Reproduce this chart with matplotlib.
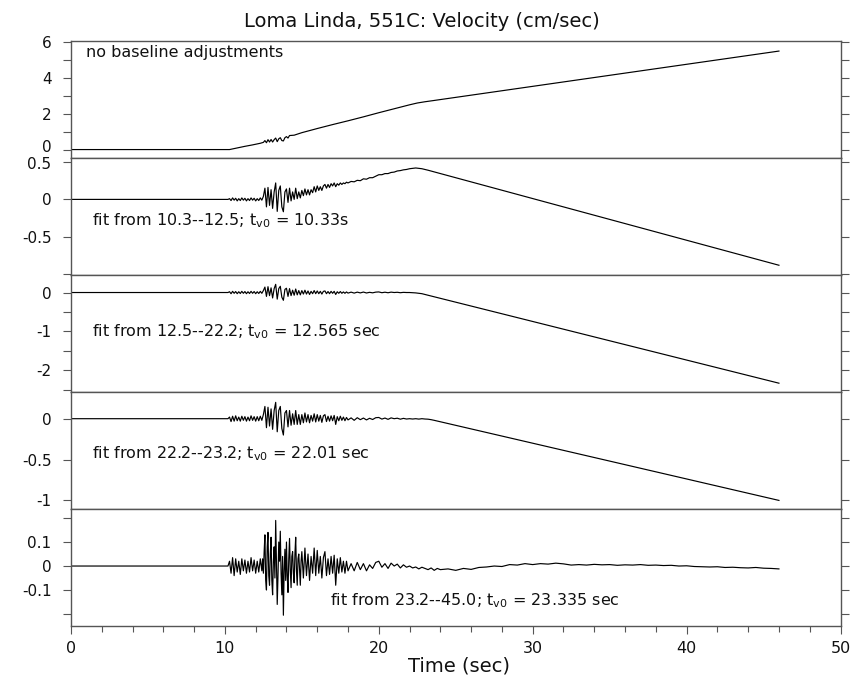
import numpy as np
import matplotlib
matplotlib.use("Agg")
import matplotlib.pyplot as plt
from matplotlib.transforms import ScaledTranslation

plt.rcParams['font.family'] = ['DejaVu Sans']
plt.rcParams['mathtext.default'] = 'regular'

# ---------------- data ----------------
T_DENSE0, T_DENSE_STEP = 10.2, 0.1     # 10.2 .. 18.0
T_MID0, T_MID_STEP = 18.2, 0.2         # 18.2 .. (varies)
T_END = 46.0

# Panel 1: raw velocity, no baseline adjustment (cm/sec)
p1_t = [0.0, 10.3, 10.8, 11.3, 11.8, 12.3, 12.5,
        12.6, 12.7, 12.8, 12.9, 13.0, 13.1, 13.2, 13.3, 13.4, 13.5,
        13.6, 13.7, 13.8, 13.9, 14.0, 14.1, 14.2,
        14.5, 15.0, 16.0, 17.0, 18.0, 19.0, 20.0, 21.0, 22.0, 22.5,
        23.0, 23.5, 46.0]
p1_v = [0.0, 0.0, 0.09, 0.18, 0.26, 0.35, 0.40,
        0.50, 0.38, 0.55, 0.42, 0.56, 0.42, 0.55, 0.64, 0.44, 0.60,
        0.66, 0.50, 0.48, 0.66, 0.72, 0.64, 0.78,
        0.80, 0.94, 1.17, 1.39, 1.60, 1.82, 2.05, 2.27, 2.49, 2.59,
        2.66, 2.72, 5.48]

# Panel 2: fit 10.3--12.5
p2_dense = [0.0, 0.01, -0.015, 0.02, -0.01, 0.015, -0.02, 0.01, -0.015, 0.02,
            -0.01, 0.015, -0.02, 0.01, -0.015, 0.02, -0.01, 0.015, -0.02, 0.01,
            -0.015, 0.02, -0.01, 0.04, 0.15, -0.1, 0.16, -0.08, 0.13, -0.12,
            0.1, 0.22, -0.16, 0.12, 0.18, -0.1, -0.165, 0.1, 0.14, -0.04,
            0.15, -0.02, 0.1, 0.0, 0.15, 0.01, 0.1, 0.02, 0.12, 0.05,
            0.14, 0.06, 0.13, 0.06, 0.13, 0.09, 0.17, 0.1, 0.18, 0.12,
            0.17, 0.12, 0.18, 0.2, 0.15, 0.2, 0.16, 0.21, 0.18, 0.22,
            0.17, 0.21, 0.19, 0.22, 0.2, 0.22, 0.21, 0.23, 0.22]
p2_mid = [0.24, 0.235, 0.255, 0.25, 0.275, 0.27, 0.29, 0.29, 0.31, 0.33,
          0.33, 0.345, 0.345, 0.36, 0.365, 0.38, 0.385, 0.395, 0.40, 0.41,
          0.415, 0.42, 0.415, 0.41, 0.40, 0.39]
p2_end = -0.88

# Panel 3: fit 12.5--22.2
p3_dense = [0.0, 0.02, -0.03, 0.03, -0.02, 0.025, -0.03, 0.02, -0.025, 0.03,
            -0.02, 0.025, -0.03, 0.02, -0.025, 0.03, -0.02, 0.025, -0.03, 0.02,
            -0.025, 0.03, -0.02, 0.05, 0.14, -0.1, 0.15, -0.08, 0.12, -0.14,
            0.1, 0.21, -0.17, 0.1, 0.16, -0.12, -0.2, 0.08, 0.11, -0.1,
            0.1, -0.08, 0.06, -0.07, 0.09, -0.06, 0.05, -0.06, 0.05, -0.04,
            0.06, -0.04, 0.04, -0.05, 0.03, -0.03, 0.05, -0.03, 0.04, -0.03,
            0.03, -0.04, 0.03, 0.04, -0.03, 0.025, -0.03, 0.03, -0.02, 0.03,
            -0.05, 0.02, -0.02, 0.025, -0.02, 0.015, -0.02, 0.015, -0.015]
p3_mid = [0.01, -0.015, 0.01, -0.01, 0.012, -0.012, 0.005, -0.008, 0.01, 0.015,
          -0.005, 0.008, -0.006, 0.01, 0.0, 0.006, -0.005, 0.004, 0.0, 0.0,
          -0.005, -0.01, -0.02, -0.03, -0.05, -0.07]
p3_end = -2.33

# Panel 4: fit 22.2--23.2
p4_dense = [0.0, 0.02, -0.035, 0.03, -0.03, 0.035, -0.025, 0.02, -0.03, 0.03,
            -0.02, 0.025, -0.03, 0.02, -0.025, 0.035, -0.02, 0.025, -0.03, 0.025,
            -0.025, 0.03, -0.02, 0.05, 0.15, -0.11, 0.14, -0.09, 0.12, -0.13,
            0.1, 0.2, -0.16, 0.1, 0.15, -0.12, -0.2, 0.07, 0.1, -0.1,
            0.1, -0.08, 0.06, -0.07, 0.1, -0.07, 0.05, -0.07, 0.05, -0.05,
            0.07, -0.04, 0.05, -0.05, 0.04, -0.03, 0.06, -0.04, 0.05, -0.03,
            0.04, -0.045, 0.035, 0.05, -0.035, 0.03, -0.03, 0.035, -0.025, 0.04,
            -0.07, 0.025, -0.025, 0.03, -0.02, 0.02, -0.025, 0.015, -0.015]
p4_mid = [0.01, -0.02, 0.012, -0.012, 0.008, -0.015, 0.005, -0.01, 0.012, 0.015,
          -0.005, 0.008, -0.008, 0.01, 0.0, 0.006, -0.006, 0.004, -0.004, 0.0,
          -0.004, 0.0, -0.005, 0.0, -0.004, -0.006, -0.012, -0.02]
p4_end = -1.0

# Panel 5: fit 23.2--45.0
p5_pre = [0.0, 0.02, -0.03, 0.035, -0.04, 0.03, -0.025, 0.02, -0.035, 0.03,
          -0.02, 0.025, -0.03, 0.02, -0.025, 0.035, -0.02, 0.025, -0.03, 0.02,
          -0.025, 0.03]                                   # 10.2 .. 12.3 (0.1 s)
p5_burst = [-0.02, 0.03, -0.03, 0.06, 0.13, -0.06, -0.10, 0.08, 0.14, -0.04,
            -0.08, 0.05, 0.12, -0.06, -0.12, 0.02, 0.08, -0.05, 0.19, 0.02,
            -0.16, -0.04, 0.10, 0.02, 0.145, -0.03, -0.12, 0.04, -0.205, -0.02,
            0.07, -0.06, 0.10, -0.04, -0.11, 0.03, 0.115, -0.02, -0.09, 0.04,
            0.06, -0.03, -0.07, 0.05, 0.12, -0.02, -0.08, 0.03, 0.05, -0.02,
            -0.08, 0.02, 0.06]                            # 12.4 .. 15.0 (0.05 s)
p5_post = [-0.05, 0.075, -0.04, 0.05, -0.06, 0.04, -0.03, 0.075, -0.04, 0.065,
           -0.03, 0.04, -0.05, 0.035, 0.06, -0.04, 0.03, -0.035, 0.04, -0.03,
           0.045, -0.08, 0.03, -0.03, 0.035, -0.025, 0.02, -0.03, 0.02, -0.02]  # 15.1 .. 18.0
p5_mid = [0.01, -0.02, 0.015, -0.015, 0.01, -0.02, 0.005, -0.01, 0.015, 0.02,
          -0.005, 0.01, -0.01, 0.012, 0.0, 0.008, -0.008, 0.005, -0.005, 0.0,
          -0.008, -0.004, -0.012, -0.005, -0.01, -0.015, -0.008, -0.018, -0.01, -0.015]
p5_tail_t0, p5_tail_step = 24.5, 0.5
p5_tail = [-0.012, -0.018, -0.01, -0.014, -0.006, -0.004, 0.0, -0.002, 0.006, 0.004,
           0.01, 0.006, 0.01, 0.008, 0.012, 0.009, 0.004, 0.006, 0.004, 0.007,
           0.005, 0.006, 0.003, 0.005, 0.004, 0.006, 0.003, 0.004, 0.002, 0.003,
           0.0, 0.001, -0.002, -0.003, -0.004, -0.003, -0.006, -0.005, -0.007, -0.008,
           -0.006, -0.009, -0.01, -0.012]

labels = ["no baseline adjustments",
          "fit from 10.3--12.5; $t_{v0}$ = 10.33s",
          "fit from 12.5--22.2; $t_{v0}$ = 12.565 sec",
          "fit from 22.2--23.2; $t_{v0}$ = 22.01 sec",
          "fit from 23.2--45.0; $t_{v0}$ = 23.335 sec"]
label_pos = [(0.0195, 0.860), (0.0273, 0.429), (0.0273, 0.480),
             (0.0273, 0.439), (0.3366, 0.183)]

ylims = [(-0.475, 6.04), (-1.013, 0.552), (-2.564, 0.445), (-1.11, 0.323), (-0.252, 0.236)]
yticks = [[0, 1, 2, 3, 4, 5, 6], [-1, -0.5, 0, 0.5], [-2.5, -2, -1.5, -1, -0.5, 0],
          [-1, -0.5, 0], [-0.2, -0.1, 0, 0.1, 0.2]]
yticklabels = [['0', '', '2', '', '4', '', '6'], ['', '-0.5', '0', '0.5'],
               ['', '-2', '', '-1', '', '0'], ['-1', '-0.5', '0'],
               ['', '-0.1', '0', '0.1', '']]
xmajor = [0, 10, 20, 30, 40, 50]
xminor = [2, 4, 6, 8, 12, 14, 16, 18, 22, 24, 26, 28, 32, 34, 36, 38, 42, 44, 46, 48]


def grid(t0, step, vals):
    return list(t0 + step * np.arange(len(vals)))


def build(dense, mid, end_val):
    t = [0.0] + grid(T_DENSE0, T_DENSE_STEP, dense) + grid(T_MID0, T_MID_STEP, mid) + [T_END]
    v = [0.0] + list(dense) + list(mid) + [end_val]
    return np.array(t), np.array(v)


p5_t = ([0.0] + grid(10.2, 0.1, p5_pre) + grid(12.4, 0.05, p5_burst) +
        grid(15.1, 0.1, p5_post) + grid(T_MID0, T_MID_STEP, p5_mid) +
        grid(p5_tail_t0, p5_tail_step, p5_tail))
p5_v = [0.0] + p5_pre + p5_burst + p5_post + p5_mid + p5_tail

series = [(np.array(p1_t), np.array(p1_v)),
          build(p2_dense, p2_mid, p2_end),
          build(p3_dense, p3_mid, p3_end),
          build(p4_dense, p4_mid, p4_end),
          (np.array(p5_t), np.array(p5_v))]

# ---------------- figure ----------------
fig = plt.figure(figsize=(8.55, 6.8), dpi=100)
gs = fig.add_gridspec(5, 1, left=71 / 855, right=840.5 / 855,
                      top=1 - 41 / 680, bottom=1 - 626.5 / 680, hspace=0)
spine_col = '#555555'
axes = []
for i in range(5):
    ax = fig.add_subplot(gs[i])
    axes.append(ax)
    t, v = series[i]
    ax.plot(t, v, color='black', lw=0.85)
    ax.set_xlim(0, 50)
    ax.set_ylim(*ylims[i])
    ax.set_yticks(yticks[i])
    ax.set_yticklabels(yticklabels[i])
    for s in ax.spines.values():
        s.set_color(spine_col)
        s.set_linewidth(1.0)
    ax.tick_params(axis='y', which='both', direction='out', length=6, width=0.8,
                   color=spine_col, labelsize=11, pad=8, left=True, right=True,
                   labelright=False, labelcolor='#111111')
    if i < 4:
        ax.tick_params(axis='x', which='both', bottom=False, top=False, labelbottom=False)
    else:
        ax.set_xticks(xmajor)
        ax.set_xticks(xminor, minor=True)
        ax.tick_params(axis='x', which='major', direction='out', length=6, width=0.8,
                       color=spine_col, labelsize=11.5, pad=4.5, labelcolor='#111111')
        ax.tick_params(axis='x', which='minor', direction='out', length=4, width=0.8,
                       color=spine_col)
    ax.text(label_pos[i][0], label_pos[i][1], labels[i], transform=ax.transAxes,
            ha='left', va='baseline', fontsize=11.5, color='#111111')

# keep the two crowded labels at the panel 1 / panel 2 joint apart
lab0 = axes[0].yaxis.get_major_ticks()[0].label1
lab0.set_transform(lab0.get_transform() + ScaledTranslation(0, 2.5 / 72, fig.dpi_scale_trans))
lab1 = axes[1].yaxis.get_major_ticks()[3].label1
lab1.set_transform(lab1.get_transform() + ScaledTranslation(0, -1.0 / 72, fig.dpi_scale_trans))

fig.text(0.494, 1 - 26.7 / 680, "Loma Linda, 551C: Velocity (cm/sec)",
         ha='center', va='baseline', fontsize=14, color='#111111')
fig.text(459 / 855, 1 - 671 / 680, "Time (sec)", ha='center', va='baseline',
         fontsize=14, color='#111111')

fig.savefig("out.png", dpi=100)
